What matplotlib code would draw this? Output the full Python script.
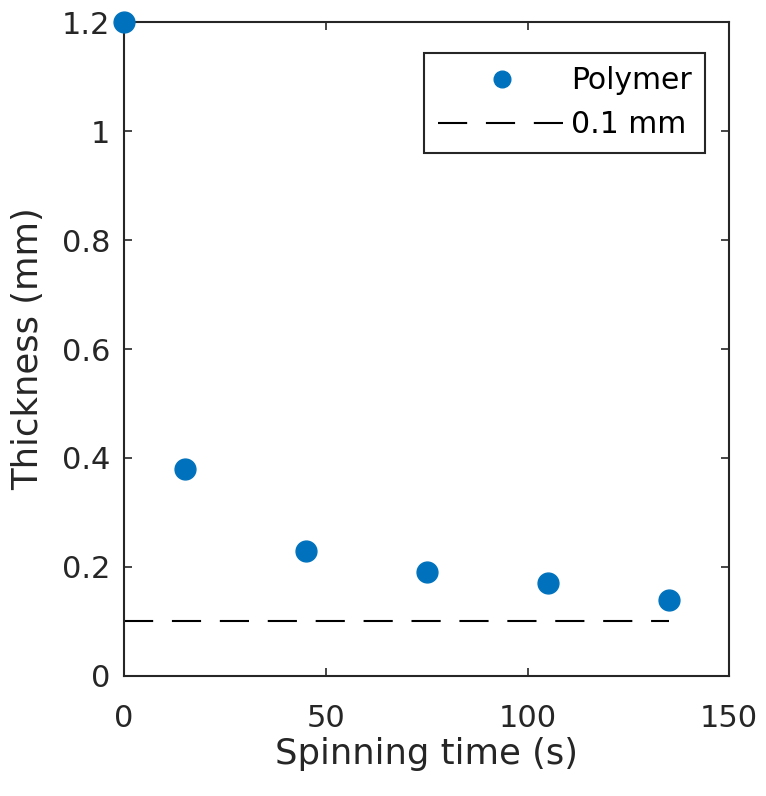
import matplotlib
matplotlib.use("Agg")
import matplotlib.pyplot as plt

# data
spin_time = [0, 15, 45, 75, 105, 135]          # s
thickness = [1.2, 0.38, 0.23, 0.19, 0.17, 0.14]  # mm
ref_x = [0, 135]
ref_y = [0.1, 0.1]

x_ticks = [0, 50, 100, 150]
y_ticks = [0, 0.2, 0.4, 0.6, 0.8, 1.0, 1.2]
y_tick_labels = ["0", "0.2", "0.4", "0.6", "0.8", "1", "1.2"]

BLUE = "#0072BD"
AXC = "#262626"

plt.rcParams["font.family"] = ["DejaVu Sans"]

fig = plt.figure(figsize=(7.66, 7.96), dpi=100)
ax = fig.add_axes([0.162, 0.151, 0.790, 0.821])

ax.plot(spin_time, thickness, "o", color=BLUE, markersize=15, clip_on=False,
        zorder=5, label="Polymer")
ax.plot(ref_x, ref_y, color="black", linewidth=1.5, dashes=(14, 9),
        label="0.1 mm")

ax.set_xlim(0, 150)
ax.set_ylim(0, 1.2)
ax.set_xticks(x_ticks)
ax.set_yticks(y_ticks)
ax.set_yticklabels(y_tick_labels)

for s in ax.spines.values():
    s.set_color(AXC)
    s.set_linewidth(1.5)
ax.tick_params(direction="in", top=True, right=True, length=6, width=1.2,
               colors=AXC, labelsize=22)
ax.tick_params(axis="x", pad=20)
ax.tick_params(axis="y", pad=10)

ax.set_xlabel("Spinning time (s)", fontsize=25.5, color=AXC, labelpad=3)
ax.set_ylabel("Thickness (mm)", fontsize=25.5, color=AXC, labelpad=12)

leg = ax.legend(loc="upper right", bbox_to_anchor=(705 / 766, 1 - 53 / 796),
                bbox_transform=fig.transFigure, fontsize=21.5, frameon=True,
                fancybox=False, edgecolor=AXC, framealpha=1, handlelength=4.3,
                borderaxespad=0, handletextpad=0.15, borderpad=0.45,
                labelspacing=0.5)
leg.get_frame().set_linewidth(1.5)
leg.legend_handles[0].set_markersize(12)

fig.savefig("out.png", dpi=100, facecolor="white")
